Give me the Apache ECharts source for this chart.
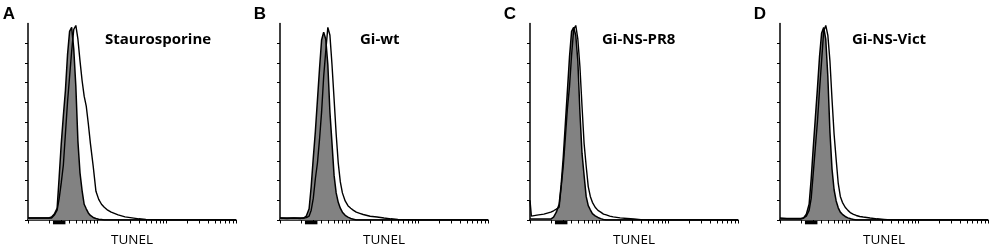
<!DOCTYPE html>
<html>
<head>
<meta charset="utf-8">
<script src="https://cdn.jsdelivr.net/npm/echarts@6/dist/echarts.min.js"></script>
<style>
    html, body { margin: 0; padding: 0; background: #fff; }
    #chart { width: 1000px; height: 252px; }
</style>
</head>
<body>
<div id="chart"></div>
<script>
// x positions of histogram bins, in decades of TUNEL fluorescence (log10)
const bins = [0, 0.02, 0.10, 0.20, 0.30, 0.34, 0.38, 0.42, 0.45, 0.48, 0.51, 0.54, 0.57, 0.60, 0.63, 0.66, 0.69, 0.72, 0.75, 0.78, 0.81, 0.84, 0.87, 0.90, 0.94, 0.98, 1.02, 1.06, 1.10, 1.15, 1.20, 1.30, 1.40, 1.50, 1.60, 1.70, 2.0, 3.0]

const panels = ['A', 'B', 'C', 'D']
const treatments = ['Staurosporine', 'Gi-wt', 'Gi-NS-PR8', 'Gi-NS-Vict']

// filled grey histogram (control) and open histogram (treated), % of max count
const controlA = [1, 1, 1, 1, 1, 1.5, 3, 6, 22, 39, 53, 66, 84, 96, 98, 87, 68, 40, 24, 15, 8, 5.7, 3.6, 2.3, 1.3, 0.8, 0.4, 0.2, 0, 0, 0, 0, 0, 0, 0, 0, 0, 0]
const treatedA = [1, 1, 1, 1, 1, 1, 2.5, 5, 11, 19, 28, 44, 60, 73, 86, 97, 99, 92, 81, 71, 63, 58, 49, 39, 27.5, 14.6, 10.5, 8, 6.5, 5, 4, 2.6, 1.6, 1.1, 0.6, 0.3, 0, 0]
const controlB = [1, 1, 1, 1, 1, 1, 2, 5.7, 17, 31.6, 45, 61, 77, 91.6, 95.6, 92, 79, 55, 39, 22.7, 13.8, 9, 6, 4, 2.4, 1.5, 0.8, 0.4, 0, 0, 0, 0, 0, 0, 0, 0, 0, 0]
const treatedB = [1, 0.8, 0.8, 1, 0.8, 1, 1.2, 2, 5, 11, 21, 29, 41, 55, 73, 86, 98, 94, 79, 61.6, 43.8, 29, 19.4, 13.8, 9.7, 7.3, 6, 4.9, 4, 3.4, 2.8, 1.9, 1.5, 1, 0.6, 0.3, 0, 0]
const controlC = [0.5, 0.5, 0.5, 0.5, 0.5, 1.5, 4, 8, 18, 32, 49, 66, 83, 96, 98, 94, 81, 55, 34, 22.7, 12, 7.3, 5.2, 3.2, 2.1, 1.3, 0.7, 0.3, 0, 0, 0, 0, 0, 0, 0, 0, 0, 0]
const treatedC = [10, 2, 2.5, 3, 4, 4.7, 5.5, 6.5, 17, 27.5, 42, 57, 68, 84, 97, 99, 92, 78, 58, 39, 27.5, 17, 12, 9, 6.5, 4.9, 4, 3, 2.6, 2, 1.6, 1.1, 0.8, 0.5, 0.2, 0, 0, 0]
const controlD = [0.5, 0.5, 0.5, 0.5, 0.5, 1, 3, 8, 21, 37, 52, 67, 83, 95, 98, 92, 73, 45, 26, 15.4, 9.7, 6.2, 4, 2.9, 1.8, 1.1, 0.6, 0.3, 0, 0, 0, 0, 0, 0, 0, 0, 0, 0]
const treatedD = [1, 0.8, 0.8, 0.8, 0.8, 1, 2, 4.9, 11, 24, 37, 50, 66, 81, 96, 99, 94, 81, 61.6, 43.8, 30.8, 18.6, 12, 9, 6.5, 4.9, 3.6, 2.9, 2.3, 1.8, 1.5, 1, 0.6, 0.3, 0, 0, 0, 0]

const controls = [controlA, controlB, controlC, controlD]
const treateds = [treatedA, treatedB, treatedC, treatedD]

// gate marker under the x axis (decades)
const gate = [0.36, 0.54]
// log axis: decades shown
const decades = [0, 1, 2]
const yTicks = [0, 10, 20, 30, 40, 50, 60, 70, 80, 90]

// log-scale tick positions: 1..9 in each decade, plus the last decade edge
const xTicks = []
decades.forEach(d => {
    for (let k = 1; k <= 9; k++) xTicks.push(d + Math.log10(k))
})
xTicks.push(decades[decades.length - 1] + 1)

const gridLeft = [28, 280, 530, 780]
const letterX = [9, 260, 510, 760]
const titleX = [105, 360, 602, 852]

const chart = echarts.init(document.getElementById('chart'))

const grid = []
const xAxis = []
const yAxis = []
const series = []
const graphic = []

panels.forEach((p, i) => {
    grid.push({ left: gridLeft[i], top: 23.5, width: 208, height: 204.5 })
    xAxis.push({
        type: 'value',
        gridIndex: i,
        min: 0,
        max: 3,
        name: 'TUNEL',
        nameLocation: 'middle',
        nameGap: 13,
        nameTextStyle: { fontFamily: 'Open Sans', fontSize: 13.5, color: '#000' },
        axisLine: { lineStyle: { color: '#000', width: 1.5 } },
        axisTick: { show: true, customValues: xTicks, length: 3.5, lineStyle: { color: '#000', width: 1 } },
        axisLabel: { show: false },
        splitLine: { show: false }
    })
    yAxis.push({
        type: 'value',
        gridIndex: i,
        min: 0,
        max: 100,
        axisLine: { show: true, lineStyle: { color: '#000', width: 1.5 } },
        axisTick: { show: true, customValues: yTicks, length: 3, lineStyle: { color: '#000', width: 1 } },
        axisLabel: { show: false },
        splitLine: { show: false }
    })
    series.push({
        type: 'line',
        xAxisIndex: i,
        yAxisIndex: i,
        symbol: 'none',
        z: 2,
        lineStyle: { color: '#000', width: 1.5 },
        areaStyle: { color: '#828282', opacity: 1 },
        data: bins.map((b, j) => [b, controls[i][j]])
    })
    series.push({
        type: 'line',
        xAxisIndex: i,
        yAxisIndex: i,
        symbol: 'none',
        z: 3,
        lineStyle: { color: '#000', width: 1.4 },
        data: bins.map((b, j) => [b, treateds[i][j]])
    })
    // gate bar just below the baseline
    series.push({
        type: 'line',
        xAxisIndex: i,
        yAxisIndex: i,
        symbol: 'none',
        clip: false,
        z: 4,
        lineStyle: { color: '#000', width: 3.5 },
        data: gate.map(g => [g, -1.3])
    })
    graphic.push({
        type: 'text',
        style: { text: p, x: letterX[i], y: 14, align: 'center', verticalAlign: 'middle', font: 'bold 17px "Liberation Sans"', fill: '#000' }
    })
    graphic.push({
        type: 'text',
        style: { text: treatments[i], x: titleX[i], y: 40, align: 'left', verticalAlign: 'middle', font: 'bold 15px "Open Sans"', fill: '#000' }
    })
})

chart.setOption({
    backgroundColor: '#fff',
    animation: false,
    grid: grid,
    xAxis: xAxis,
    yAxis: yAxis,
    series: series,
    graphic: graphic
})
</script>
</body>
</html>
